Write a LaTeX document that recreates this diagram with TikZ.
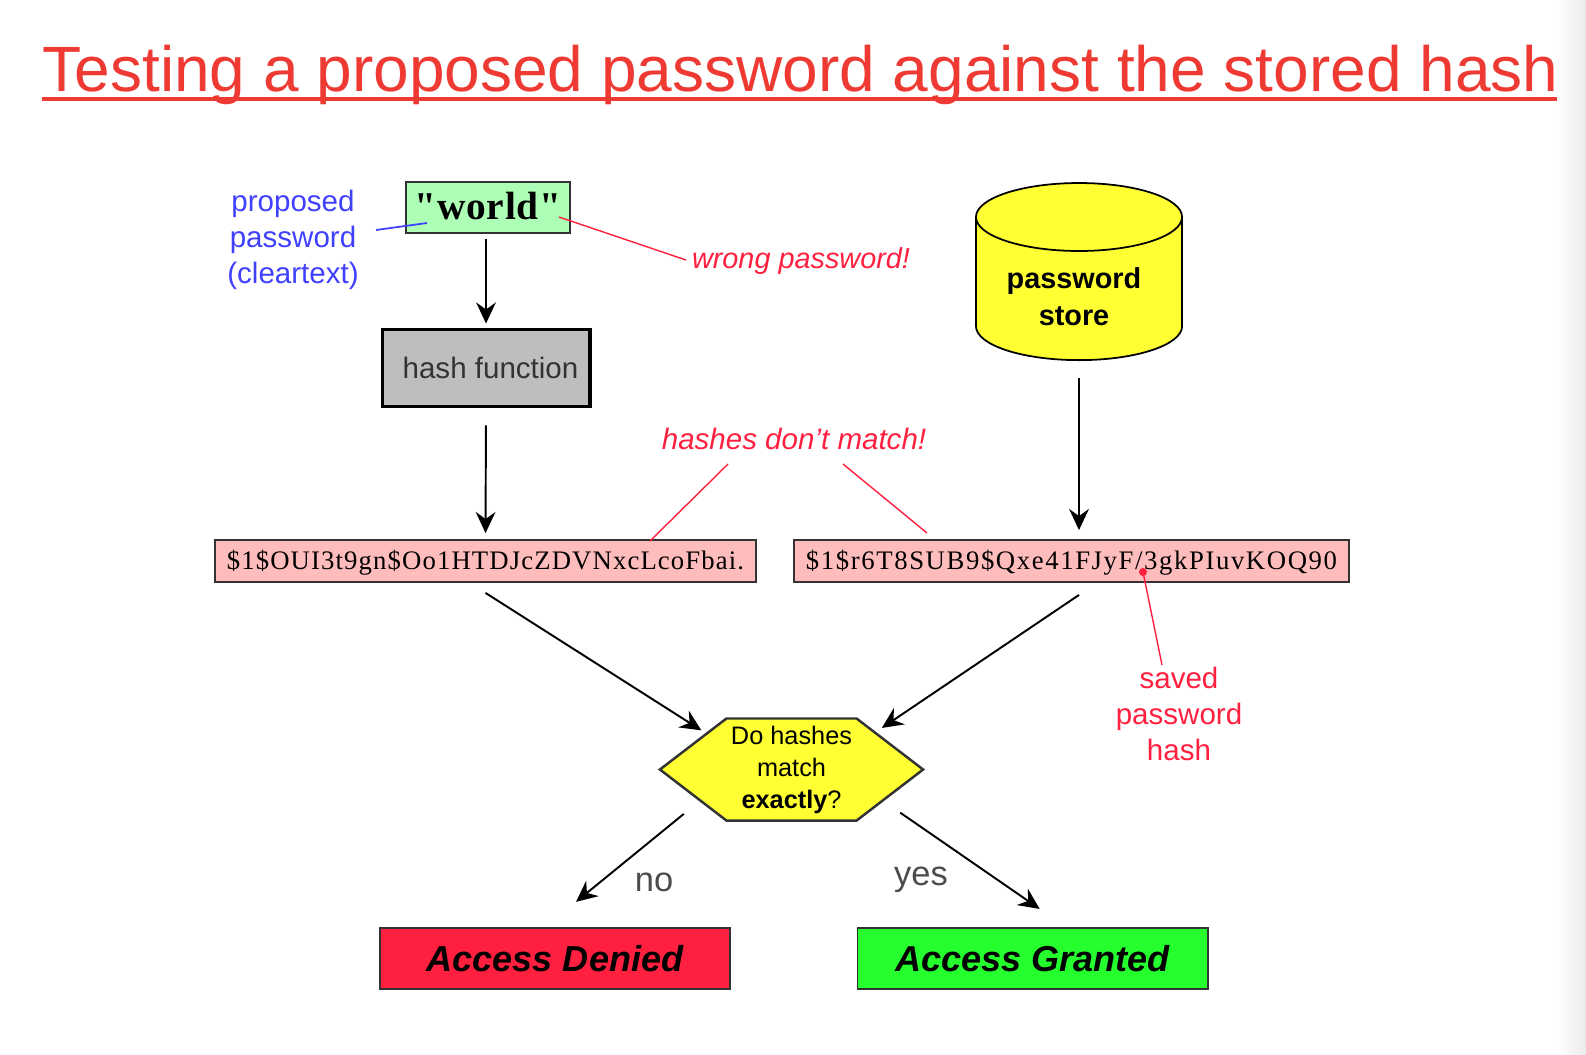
\documentclass[tikz,border=0pt]{standalone}
\usepackage{fontspec}
\setmainfont{Liberation Sans}
\newfontfamily\serifhash[LetterSpace=6]{Liberation Serif}
\newfontfamily\serifhashA[LetterSpace=4.2]{Liberation Serif}
\newfontfamily\serifword[LetterSpace=2]{Liberation Serif}
\usetikzlibrary{arrows.meta,shapes.geometric,shapes.symbols}
\definecolor{titlered}{HTML}{EE3A33}
\definecolor{notered}{HTML}{FF2040}
\definecolor{noteblue}{HTML}{4040FF}
\definecolor{wordgreen}{HTML}{ACFFB4}
\definecolor{hashgrey}{HTML}{BEBEBE}
\definecolor{hashpink}{HTML}{FFBCBC}
\definecolor{storeyellow}{HTML}{FFFF33}
\definecolor{denyred}{HTML}{FF2040}
\definecolor{grantgreen}{HTML}{26FF2E}
\tikzset{
  flow/.style={->,black,>={Stealth[length=6pt,width=5.6pt,inset=2pt]},line width=0.55pt},
  redline/.style={notered,line width=0.4pt},
  blueline/.style={noteblue,line width=0.5pt},
  rednote/.style={text=notered,align=center,inner sep=0pt,font=\fontsize{8.4}{10.3}\selectfont},
  bluenote/.style={text=noteblue,align=center,inner sep=0pt,font=\fontsize{8.4}{10.3}\selectfont},
  hashbox/.style={draw=black!80,fill=hashpink,line width=0.5pt,minimum height=0.42cm,minimum width=5.41cm,inner sep=0pt,text height=5pt,text depth=0pt,font=\fontsize{7.6}{9}\selectfont},
  endbox/.style={draw=black!80,line width=0.5pt,minimum width=3.5cm,minimum height=0.61cm,inner sep=0pt,font=\fontsize{10.25}{12}\selectfont\bfseries\itshape},
  answer/.style={text=black!70,inner sep=0pt,font=\fontsize{9.8}{11}\selectfont}
}
\begin{document}
\begin{tikzpicture}[x=0.01cm,y=-0.01cm]
\useasboundingbox (0,0) rectangle (1586,1054);
\fill[left color=white,right color=black!8,draw=none] (1556,0) rectangle (1586,1054);

\node[inner sep=0pt,anchor=base west,text=titlered,font=\fontsize{18.2}{22}\selectfont] (title) at (42,91) {Testing a proposed password against the stored hash};
\draw[titlered,line width=1.1pt] (42,99) -- (1557,99);

\node[draw=black!80,fill=wordgreen,line width=0.5pt,minimum width=1.64cm,minimum height=0.51cm,inner sep=0pt,text height=7pt,text depth=0pt,font=\serifword\fontsize{11.2}{13}\selectfont\bfseries] (world) at (488,207.5) {"world"};
\node[draw=black,fill=hashgrey,line width=1.1pt,minimum width=2.07cm,minimum height=0.77cm,inner sep=0pt,text=black!80,font=\fontsize{8.4}{10}\selectfont] (hash) at (486,368) {\hspace{0.09cm}hash function};
\node[hashbox,font=\serifhashA\fontsize{7.6}{9}\selectfont] (cipherA) at (485.5,561) {\$1\$OUI3t9gn\$Oo1HTDJcZDVNxcLcoFbai.};
\node[hashbox,minimum width=5.55cm,font=\serifhash\fontsize{7.6}{9}\selectfont] (cipherB) at (1071.5,561) {\$1\$r6T8SUB9\$Qxe41FJyF/3gkPIuvKOQ90};
\node[cylinder,shape border rotate=90,draw=black,fill=storeyellow,line width=0.5pt,shape aspect=0.47,minimum width=2.06cm,minimum height=1.77cm,inner sep=0pt,text height=0.72cm,text depth=0pt,align=center,font=\fontsize{8.2}{10.3}\selectfont\bfseries] (store) at (1079,289) {password\hspace*{0.1cm}\\store\hspace*{0.1cm}};
\node[signal,signal to=west and east,signal pointer angle=75,draw=black!80,fill=storeyellow,line width=0.7pt,minimum width=2.63cm,minimum height=1.02cm,inner sep=0pt,align=center,font=\fontsize{7.2}{9.1}\selectfont] (check) at (791.5,769.5) {Do hashes\\match\\\textbf{exactly}?};
\node[endbox,fill=denyred] (denied) at (555,958.5) {Access Denied};
\node[endbox,fill=grantgreen] (granted) at (1032.5,958.5) {Access Granted};

\node[bluenote] (proposed) at (293,240) {proposed\\password\\(cleartext)};
\node[rednote,font=\fontsize{8.2}{10.3}\selectfont\itshape] (wrong) at (801,261) {wrong password!};
\node[rednote,font=\fontsize{8.4}{10.3}\selectfont\itshape] (nomatch) at (794,439) {hashes don't match!};
\node[rednote] (saved) at (1179,714) {saved\\password\\hash};
\node[answer] (no) at (654,882) {no};
\node[answer] (yes) at (921,880) {yes};

\coordinate (worldblue) at (427,223);
\coordinate (blueend) at (376,230);
\coordinate (worldred) at (559,217);
\coordinate (wrongend) at (686,260);
\coordinate (nomatchL) at (728,464);
\coordinate (nomatchR) at (843,464);
\coordinate (cipherAtop) at (650,541);
\coordinate (cipherBtop) at (927,533);
\coordinate (cipherBdot) at (1143,572);
\coordinate (savedend) at (1162,665);

\path[flow] (hash.north |- world.south) edge[shorten <=0.05cm,shorten >=0.04cm] (hash.north);
\path[flow] (hash.south) edge[shorten <=0.17cm,shorten >=0.06cm] (cipherA.north);
\path[flow] (store.south) edge[shorten <=0.17cm,shorten >=0.09cm] (store.south |- cipherB.north);
\path[flow] ([yshift=-0.1cm]cipherA.south) edge[shorten >=0.05cm] (check.157);
\path[flow] ([xshift=0.075cm,yshift=-0.12cm]cipherB.south) edge[shorten >=0.07cm] (check.24);
\path[flow] (check.199.5) edge[shorten <=0.2cm,shorten >=0.4cm] ([xshift=-0.1cm]denied.north);
\path[flow] (check.-19) edge[shorten <=0.2cm,shorten >=0.32cm] ([xshift=0.335cm]granted.north);

\path[blueline] (blueend) edge (worldblue);
\path[redline] (worldred) edge (wrongend);
\path[redline] (nomatchL) edge (cipherAtop);
\path[redline] (nomatchR) edge (cipherBtop);
\path[redline] (cipherBdot) edge (savedend);
\fill[notered] (cipherBdot) circle (0.04cm);
\end{tikzpicture}
\end{document}
